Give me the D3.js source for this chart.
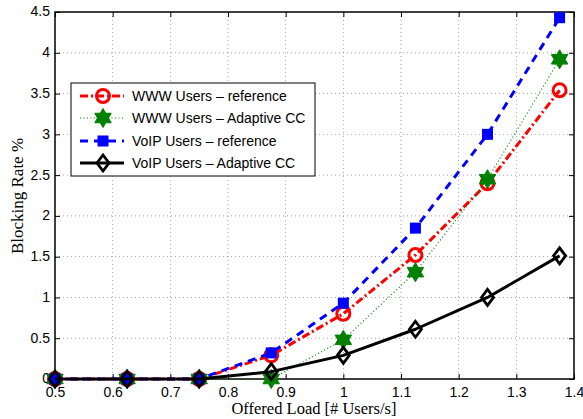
<!DOCTYPE html>
<html><head><meta charset="utf-8">
<script src="https://cdn.jsdelivr.net/npm/d3@7"></script>
<style>body{margin:0;background:#fff}svg{display:block}</style>
</head><body>
<svg id="c" width="583" height="419"></svg>
<script>
const loads = [0.5, 0.625, 0.75, 0.875, 1.0, 1.125, 1.25, 1.375];
const wwwRef = [0, 0, 0, 0.29, 0.80, 1.52, 2.40, 3.54];
const wwwAdapt = [0, 0, 0, 0.0, 0.48, 1.31, 2.45, 3.92];
const voipRef = [0, 0, 0, 0.32, 0.93, 1.85, 3.00, 4.43];
const voipAdapt = [0, 0, 0, 0.09, 0.29, 0.61, 1.00, 1.51];
const xTicks = [0.5,0.6,0.7,0.8,0.9,1,1.1,1.2,1.3,1.4];
const yTicks = [0,0.5,1,1.5,2,2.5,3,3.5,4,4.5];
const seriesNames = ["WWW Users – reference","WWW Users – Adaptive CC","VoIP Users – reference","VoIP Users – Adaptive CC"];

const svg = d3.select("#c");
const L=55,R=574,T=12,B=379;
const x = d3.scaleLinear().domain([0.5,1.4]).range([L,R]);
const y = d3.scaleLinear().domain([0,4.5]).range([B,T]);
const tickFont = "Liberation Sans, Arial, sans-serif";
const serif = "Liberation Serif, Times New Roman, serif";

// grid
const g = svg.append("g");
xTicks.slice(1,-1).forEach(t=>g.append("line").attr("x1",x(t)).attr("x2",x(t)).attr("y1",T).attr("y2",B)
  .attr("stroke","#000").attr("stroke-width",0.6).attr("stroke-dasharray","1,3").attr("opacity",0.6));
yTicks.slice(1,-1).forEach(t=>g.append("line").attr("x1",L).attr("x2",R).attr("y1",y(t)).attr("y2",y(t))
  .attr("stroke","#000").attr("stroke-width",0.6).attr("stroke-dasharray","1,3").attr("opacity",0.6));

// axes with inward ticks
const fmt = d=>String(d);
const ax = svg.append("g").attr("transform",`translate(0,${B})`).call(d3.axisBottom(x).tickValues(xTicks).tickFormat(fmt).tickSizeInner(-5).tickSizeOuter(0).tickPadding(8));
const axT = svg.append("g").attr("transform",`translate(0,${T})`).call(d3.axisTop(x).tickValues(xTicks).tickFormat("").tickSizeInner(-5).tickSizeOuter(0));
const ay = svg.append("g").attr("transform",`translate(${L},0)`).call(d3.axisLeft(y).tickValues(yTicks).tickFormat(fmt).tickSizeInner(-5).tickSizeOuter(0).tickPadding(5));
const ayR = svg.append("g").attr("transform",`translate(${R},0)`).call(d3.axisRight(y).tickValues(yTicks).tickFormat("").tickSizeInner(-5).tickSizeOuter(0));
[ax,axT,ay,ayR].forEach(a=>{a.select(".domain").remove();a.selectAll("line").attr("stroke","#000").attr("stroke-width",1);
  a.selectAll("text").attr("font-family",tickFont).attr("font-size",14).attr("fill","#000");});
ay.selectAll("text").attr("dy","0.28em");
svg.append("rect").attr("x",L).attr("y",T).attr("width",R-L).attr("height",B-T).attr("fill","none").attr("stroke","#000").attr("stroke-width",1.5);

// marker shapes
function hexagram(r){const pts=[];for(let i=0;i<12;i++){const a=-Math.PI/2+i*Math.PI/6;const rr=i%2?r*0.58:r;pts.push([rr*Math.cos(a),rr*Math.sin(a)]);}return "M"+pts.map(p=>p.join(",")).join("L")+"Z";}
function diamond(w,h){return `M0,${-h}L${w},0L0,${h}L${-w},0Z`;}

const styles = [
 {data:wwwRef,color:"#ff0000",width:3,dash:"8,3,2,3",marker:"circle"},
 {data:wwwAdapt,color:"#008000",width:1.2,dash:"1,2.5",marker:"hex"},
 {data:voipRef,color:"#0000ff",width:3,dash:"8,6",marker:"square"},
 {data:voipAdapt,color:"#000000",width:3,dash:null,marker:"diamond"}
];
function drawMarker(sel,s,cx,cy){
  if(s.marker==="circle") sel.append("circle").attr("cx",cx).attr("cy",cy).attr("r",6.5).attr("fill","none").attr("stroke",s.color).attr("stroke-width",3);
  else if(s.marker==="hex") sel.append("path").attr("d",hexagram(9.5)).attr("transform",`translate(${cx},${cy})`).attr("fill",s.color).attr("stroke",s.color).attr("stroke-width",1);
  else if(s.marker==="square") sel.append("rect").attr("x",cx-5.5).attr("y",cy-5.5).attr("width",11).attr("height",11).attr("fill",s.color);
  else sel.append("path").attr("d",diamond(6,8)).attr("transform",`translate(${cx},${cy})`).attr("fill","none").attr("stroke",s.color).attr("stroke-width",2.8);
}
const line = d3.line().x((d,i)=>x(loads[i])).y(d=>y(d));
styles.forEach(s=>{
  const gg = svg.append("g");
  gg.append("path").attr("d",line(s.data)).attr("fill","none").attr("stroke",s.color).attr("stroke-width",s.width)
    .attr("stroke-dasharray",s.dash).attr("stroke-linejoin","round");
  s.data.forEach((v,i)=>drawMarker(gg,s,x(loads[i]),y(v)));
});

// legend
const lg = svg.append("g");
lg.append("rect").attr("x",71).attr("y",83).attr("width",244).attr("height",93).attr("fill","#fff").attr("stroke","#000").attr("stroke-width",1);
const rowY=[96,118,141,163];
styles.forEach((s,i)=>{
  lg.append("line").attr("x1",80).attr("x2",124).attr("y1",rowY[i]).attr("y2",rowY[i]).attr("stroke",s.color).attr("stroke-width",s.width).attr("stroke-dasharray",s.dash);
  drawMarker(lg,s,103,rowY[i]);
  lg.append("text").attr("x",132).attr("y",rowY[i]+5).attr("font-family",tickFont).attr("font-size",14).text(seriesNames[i]);
});

// axis labels
svg.append("text").attr("x",314).attr("y",414).attr("text-anchor","middle").attr("font-family",serif).attr("font-size",16.5).text("Offered Load [# Users/s]");
svg.append("text").attr("transform","translate(23,196) rotate(-90)").attr("text-anchor","middle").attr("font-family",serif).attr("font-size",17).text("Blocking Rate %");
</script>
</body></html>
